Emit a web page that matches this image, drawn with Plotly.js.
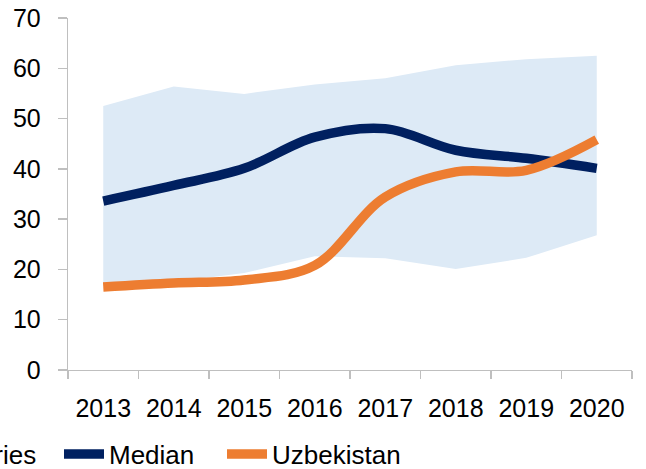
<!DOCTYPE html>
<html>
<head>
<meta charset="utf-8">
<script src="https://cdn.plot.ly/plotly-3.0.1.min.js"></script>
<style>
html,body{margin:0;padding:0;background:#fff;}
#chart{width:646px;height:469px;}
</style>
</head>
<body>
<div id="chart"></div>
<script>
var years = ["2013","2014","2015","2016","2017","2018","2019","2020"];
var rangeLow = [17.0, 17.5, 19.3, 22.6, 22.2, 20.1, 22.3, 26.8];
var rangeHigh = [52.5, 56.4, 54.9, 56.8, 58.0, 60.6, 61.8, 62.5];
var median = [33.6, 36.7, 40.1, 46.3, 48.0, 43.7, 42.1, 40.1];
var uzbekistan = [16.5, 17.3, 17.9, 20.8, 34.4, 39.4, 39.7, 45.8];
var yTicks = [0, 10, 20, 30, 40, 50, 60, 70];

var traces = [
  {x: years, y: rangeLow, type: 'scatter', mode: 'lines', line: {width: 0, color: 'rgba(0,0,0,0)'},
   showlegend: false, hoverinfo: 'skip'},
  {x: years, y: rangeHigh, type: 'scatter', mode: 'lines', fill: 'tonexty', fillcolor: '#DDEAF6',
   line: {width: 0, color: '#DDEAF6'}, name: 'Range of countries', legend: 'legend'},
  {x: years, y: median, type: 'scatter', mode: 'lines', name: 'Median', legend: 'legend2',
   line: {color: '#002060', width: 9.5, shape: 'spline', smoothing: 1}},
  {x: years, y: uzbekistan, type: 'scatter', mode: 'lines', name: 'Uzbekistan', legend: 'legend3',
   line: {color: '#ED7D31', width: 9.5, shape: 'spline', smoothing: 1}}
];

function legendAt(xpx, anchor) {
  return {
    orientation: 'h', xref: 'container', yref: 'container',
    x: xpx / 646, xanchor: anchor, y: 15 / 469, yanchor: 'middle',
    font: {size: 26, color: '#000'}, itemwidth: 40, bgcolor: 'rgba(0,0,0,0)'
  };
}

var layout = {
  width: 646, height: 469,
  margin: {l: 68, r: 14, t: 17.5, b: 98.5, pad: 0},
  paper_bgcolor: '#fff', plot_bgcolor: '#fff',
  font: {family: '"Liberation Sans", Arial, sans-serif', size: 25, color: '#000'},
  showlegend: true,
  legend: legendAt(42, 'right'),
  legend2: legendAt(59, 'left'),
  legend3: legendAt(222, 'left'),
  xaxis: {
    type: 'category', range: [-0.5, 7.5], showgrid: false, zeroline: false,
    showline: true, linecolor: '#BFBFBF', linewidth: 1.3,
    ticks: 'outside', tickson: 'boundaries', ticklen: 8, tickcolor: '#BFBFBF', tickwidth: 1.3,
    tickfont: {size: 25}, ticklabelstandoff: 16, fixedrange: true
  },
  yaxis: {
    range: [0, 70], tickvals: yTicks, showgrid: false, zeroline: false,
    showline: true, linecolor: '#BFBFBF', linewidth: 1.3,
    ticks: 'outside', ticklen: 9, tickcolor: '#BFBFBF', tickwidth: 1.3,
    tickfont: {size: 25}, ticklabelstandoff: 12, fixedrange: true
  }
};

Plotly.newPlot('chart', traces, layout, {displayModeBar: false, staticPlot: true});
</script>
</body>
</html>
